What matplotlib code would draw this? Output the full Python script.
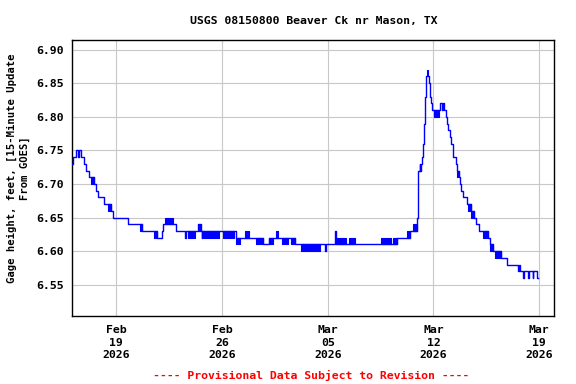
import numpy as np
import pandas as pd
import matplotlib
matplotlib.use("Agg")
import matplotlib.pyplot as plt
import matplotlib.dates as mdates

# ---------------- data ----------------
title = "USGS 08150800 Beaver Ck nr Mason, TX"
ylabel = "Gage height, feet, [15-Minute Update\nFrom GOES]"
footer = "---- Provisional Data Subject to Revision ----"
start = pd.Timestamp("2026-02-16 00:00")

# step changes of gage height: days after start, value (ft)
step_days = [
    0.048, 0.101, 0.312, 0.465, 0.531, 0.683, 0.829, 0.961, 1.160, 1.524,
    1.636, 1.789, 2.166, 2.669, 2.795, 3.808, 4.734, 5.727, 6.045, 6.105,
    6.972, 7.581, 7.620, 8.428, 8.460, 8.560, 8.590, 8.653, 8.680, 10.924,
    12.691, 13.128, 14.829, 16.848, 16.880, 17.510, 17.560, 21.561, 22.442, 22.885,
    22.938, 22.991, 23.103, 23.130, 23.170, 23.256, 23.322, 23.369, 23.402, 23.435,
    23.520, 23.699, 23.765, 23.832, 23.918, 24.447, 24.560, 24.620, 24.712, 24.824,
    24.871, 24.937, 25.070, 25.156, 25.268, 25.308, 25.467, 25.533, 25.685, 25.751,
    25.818, 25.930, 26.195, 26.460, 26.678, 26.811, 27.029, 27.585, 27.737, 27.916,
    28.446, 28.843, 29.571, 29.677, 29.720, 29.942, 29.970, 30.272, 30.300, 30.564,
    30.590, 30.882, 30.934,
]
step_values = [
    6.73, 6.74, 6.75, 6.74, 6.75, 6.74, 6.73, 6.72, 6.71, 6.70,
    6.69, 6.68, 6.67, 6.66, 6.65, 6.64, 6.63, 6.62, 6.63, 6.64,
    6.63, 6.62, 6.63, 6.64, 6.63, 6.64, 6.63, 6.62, 6.63, 6.62,
    6.61, 6.62, 6.61, 6.60, 6.61, 6.63, 6.61, 6.62, 6.63, 6.64,
    6.65, 6.72, 6.73, 6.72, 6.73, 6.74, 6.76, 6.77, 6.79, 6.83,
    6.86, 6.85, 6.83, 6.82, 6.81, 6.82, 6.81, 6.82, 6.81, 6.80,
    6.79, 6.78, 6.77, 6.76, 6.75, 6.74, 6.73, 6.72, 6.71, 6.70,
    6.69, 6.68, 6.67, 6.66, 6.65, 6.64, 6.63, 6.62, 6.61, 6.60,
    6.59, 6.58, 6.57, 6.58, 6.57, 6.56, 6.57, 6.56, 6.57, 6.56,
    6.57, 6.56, 6.56,
]

# periods where the reading flickers rapidly between two adjacent levels
flicker_start = [1.305, 2.451, 4.589, 5.509, 6.224, 7.726, 8.719, 10.063, 10.924, 11.519,
                 12.247, 13.128, 13.571, 13.949, 14.564, 15.226, 15.776, 17.543, 18.404, 20.522,
                 21.296, 22.223, 22.660, 23.547, 24.050, 25.572, 26.301, 26.499, 27.294, 27.737,
                 28.068]
flicker_end = [1.524, 2.669, 4.734, 5.727, 6.733, 8.210, 9.798, 10.791, 11.188, 11.764,
               12.691, 13.353, 13.680, 14.346, 14.829, 15.690, 16.484, 18.205, 18.801, 21.184,
               21.561, 22.442, 22.885, 23.653, 24.361, 25.685, 26.460, 26.678, 27.585, 27.916,
               28.446]
flicker_low = [6.70, 6.66, 6.63, 6.62, 6.64, 6.62, 6.62, 6.62, 6.61, 6.62,
               6.61, 6.61, 6.62, 6.61, 6.61, 6.60, 6.60, 6.61, 6.61, 6.61,
               6.61, 6.62, 6.63, 6.86, 6.80, 6.71, 6.66, 6.65, 6.62, 6.60,
               6.59]
flicker_high = [6.71, 6.67, 6.64, 6.63, 6.65, 6.63, 6.63, 6.63, 6.62, 6.63,
                6.62, 6.62, 6.63, 6.62, 6.62, 6.61, 6.61, 6.62, 6.62, 6.62,
                6.62, 6.63, 6.64, 6.87, 6.81, 6.72, 6.67, 6.66, 6.63, 6.61,
                6.60]

y_ticks = [6.55, 6.60, 6.65, 6.70, 6.75, 6.80, 6.85, 6.90]
x_tick_dates = ["2026-02-19", "2026-02-26", "2026-03-05", "2026-03-12", "2026-03-19"]
x_range_days = [0.048, 32.0]
y_range = [6.504, 6.915]

# ---------------- plot ----------------
mono = "DejaVu Sans Mono"
fs = 8.25
blue = "#0000ff"

fig = plt.figure(figsize=(5.76, 3.84), dpi=100)
ax = fig.add_axes([0.1245, 0.1779, 0.8378, 0.7192])

def to_time(days):
    return start + pd.to_timedelta(np.asarray(days, dtype=float), unit="D")

for s, e, lo, hi in zip(flicker_start, flicker_end, flicker_low, flicker_high):
    ax.fill_between(to_time([s, e]), [lo, lo], [hi, hi], color=blue,
                    edgecolor=blue, linewidth=0.8, zorder=3)

ax.plot(to_time(step_days), step_values, drawstyle="steps-post",
        color=blue, linewidth=1.0, zorder=4)

ax.set_xlim(to_time(x_range_days[:1])[0], to_time(x_range_days[1:])[0])
ax.set_ylim(*y_range)
ax.set_yticks(y_ticks)
ax.set_yticklabels([f"{v:.2f}" for v in y_ticks])
ax.set_xticks(pd.to_datetime(x_tick_dates))
ax.xaxis.set_major_formatter(mdates.DateFormatter("%b\n%d\n%Y"))

ax.grid(True, color="#c8c8c8", linewidth=0.8, zorder=0)
ax.set_axisbelow(True)
ax.tick_params(length=0, labelsize=fs)
ax.tick_params(axis="y", pad=5.5)
ax.tick_params(axis="x", pad=7)
for lab in ax.get_xticklabels() + ax.get_yticklabels():
    lab.set_fontfamily(mono)
    lab.set_fontweight("bold")
for lab in ax.get_xticklabels():
    lab.set_linespacing(1.28)
for sp in ax.spines.values():
    sp.set_linewidth(1.0)
    sp.set_color("black")

ax.set_ylabel(ylabel, fontfamily=mono, fontweight="bold", fontsize=7.6,
              linespacing=1.35)
ax.yaxis.set_label_coords(-0.086, 0.535)

fig.text(0.544, 0.946, title, ha="center", va="center",
         fontfamily=mono, fontweight="bold", fontsize=fs)
fig.text(0.541, 0.023, footer, ha="center", va="center", color="#ff0000",
         fontfamily=mono, fontweight="bold", fontsize=fs)

fig.savefig("out.png", dpi=100)
